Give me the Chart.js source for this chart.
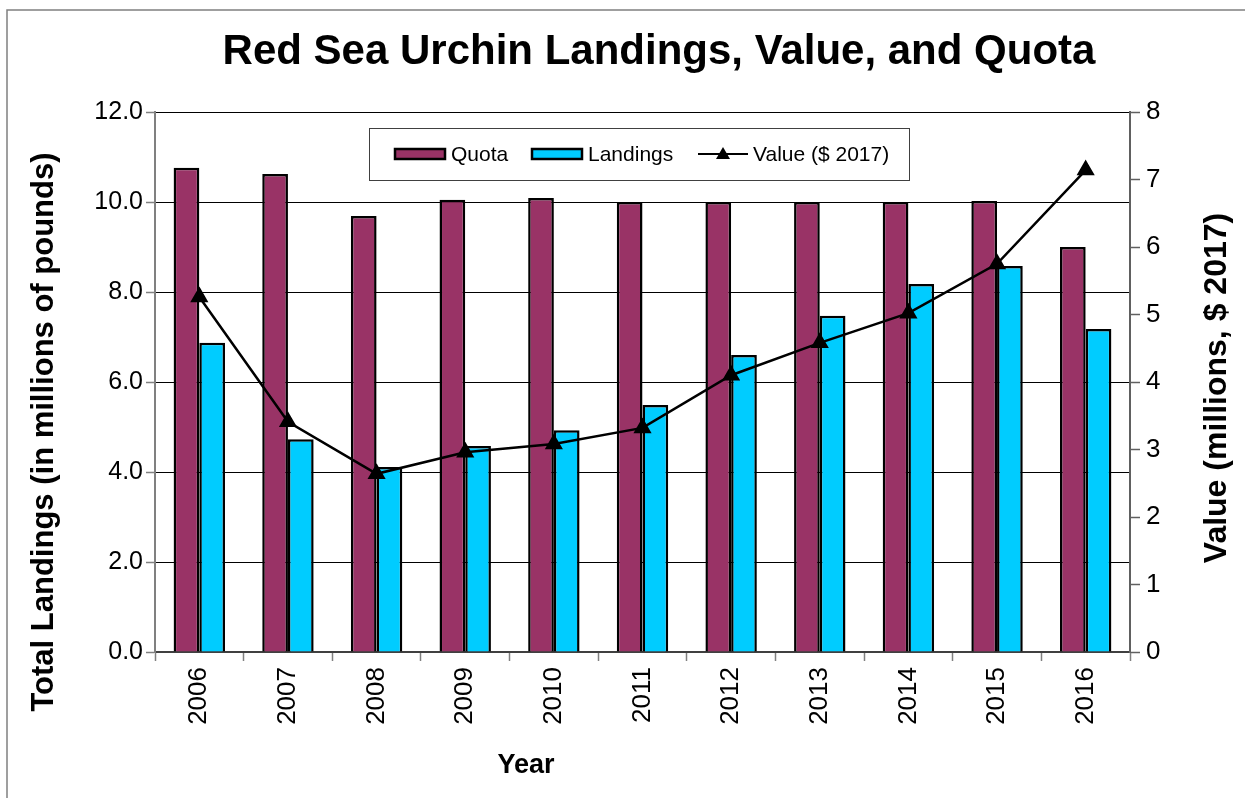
<!DOCTYPE html>
<html>
<head>
<meta charset="utf-8">
<script src="https://cdn.jsdelivr.net/npm/chart.js@4/dist/chart.umd.min.js"></script>
<style>
  html, body { margin: 0; padding: 0; background: #fff; }
  #wrap { width: 1245px; height: 798px; }
</style>
</head>
<body>
<div id="wrap"><canvas id="urchinChart" width="1245" height="798"></canvas></div>
<script>
// dados
const years = ['2006', '2007', '2008', '2009', '2010', '2011', '2012', '2013', '2014', '2015', '2016'];
const quota = [10.76, 10.62, 9.69, 10.05, 10.09, 10.0, 10.0, 10.0, 10.0, 10.02, 9.0];
const landings = [6.87, 4.73, 4.11, 4.58, 4.93, 5.49, 6.6, 7.47, 8.18, 8.58, 7.18];
const value2017 = [5.26, 3.41, 2.64, 2.96, 3.08, 3.32, 4.1, 4.58, 5.02, 5.75, 7.14];
const leftTicks = [0, 2, 4, 6, 8, 10, 12];
const rightTicks = [0, 1, 2, 3, 4, 5, 6, 7, 8];

const FONT = 'Arial, "Liberation Sans", Helvetica, sans-serif';

// títulos, legenda e moldura desenhados à mão
const decorPlugin = {
    id: 'decor',
    afterDraw(chart) {
        const ctx = chart.ctx;
        ctx.save();

        // moldura externa
        ctx.strokeStyle = '#808080';
        ctx.lineWidth = 1.5;
        ctx.beginPath();
        ctx.moveTo(7, 798);
        ctx.lineTo(7, 10);
        ctx.lineTo(1245, 10);
        ctx.stroke();

        ctx.fillStyle = '#000';
        ctx.textAlign = 'center';
        ctx.textBaseline = 'middle';

        ctx.font = 'bold 42px ' + FONT;
        ctx.fillText('Red Sea Urchin Landings, Value, and Quota', 659, 52);

        ctx.font = 'bold 27px ' + FONT;
        ctx.fillText('Year', 526, 766);

        ctx.font = 'bold 31px ' + FONT;
        ctx.save();
        ctx.translate(44, 432);
        ctx.rotate(-Math.PI / 2);
        ctx.fillText('Total Landings (in millions of pounds)', 0, 0);
        ctx.restore();

        ctx.font = 'bold 32px ' + FONT;
        ctx.save();
        ctx.translate(1217, 388);
        ctx.rotate(-Math.PI / 2);
        ctx.fillText('Value (millions, $ 2017)', 0, 0);
        ctx.restore();

        // legenda
        const lx = 369, ly = 128, lw = 540, lh = 52;
        ctx.fillStyle = '#fff';
        ctx.fillRect(lx, ly, lw, lh);
        ctx.strokeStyle = '#404040';
        ctx.lineWidth = 1;
        ctx.strokeRect(lx + 0.5, ly + 0.5, lw, lh);

        const ds = chart.data.datasets;
        const cy = ly + lh / 2;
        ctx.font = '21px ' + FONT;
        ctx.textAlign = 'left';

        // Quota
        ctx.fillStyle = ds[0].backgroundColor;
        ctx.fillRect(395, cy - 5, 50, 10);
        ctx.strokeStyle = '#000';
        ctx.lineWidth = 2.5;
        ctx.strokeRect(395, cy - 5, 50, 10);
        ctx.fillStyle = '#000';
        ctx.fillText('Quota', 451, cy + 1);

        // Landings
        ctx.fillStyle = ds[1].backgroundColor;
        ctx.fillRect(532, cy - 5, 50, 10);
        ctx.strokeRect(532, cy - 5, 50, 10);
        ctx.fillStyle = '#000';
        ctx.fillText('Landings', 588, cy + 1);

        // Value
        ctx.lineWidth = 2;
        ctx.beginPath();
        ctx.moveTo(698, cy);
        ctx.lineTo(748, cy);
        ctx.stroke();
        ctx.beginPath();
        ctx.moveTo(723, cy - 7);
        ctx.lineTo(730, cy + 5);
        ctx.lineTo(716, cy + 5);
        ctx.closePath();
        ctx.fill();
        ctx.fillText('Value ($ 2017)', 753, cy + 1);

        ctx.restore();
    }
};

const ctxUrchin = document.getElementById('urchinChart').getContext('2d');
new Chart(ctxUrchin, {
    type: 'bar',
    data: {
        labels: years,
        datasets: [
            {
                label: 'Quota',
                data: quota,
                backgroundColor: '#993366',
                borderColor: '#000',
                borderWidth: 2.5,
                yAxisID: 'y',
                order: 2,
                categoryPercentage: 0.58,
                barPercentage: 1.0
            },
            {
                label: 'Landings',
                data: landings,
                backgroundColor: '#00CCFF',
                borderColor: '#000',
                borderWidth: 2.5,
                yAxisID: 'y',
                order: 2,
                categoryPercentage: 0.58,
                barPercentage: 1.0
            },
            {
                type: 'line',
                label: 'Value ($ 2017)',
                data: value2017,
                borderColor: '#000',
                backgroundColor: '#000',
                borderWidth: 2.5,
                pointStyle: 'triangle',
                pointRadius: 8,
                pointBackgroundColor: '#000',
                pointBorderColor: '#000',
                tension: 0,
                yAxisID: 'y1',
                order: 1
            }
        ]
    },
    options: {
        responsive: false,
        animation: false,
        devicePixelRatio: 1,
        layout: { padding: { top: 112, left: 0, right: 0, bottom: 0 } },
        plugins: {
            legend: { display: false },
            title: { display: false },
            tooltip: { enabled: false }
        },
        scales: {
            x: {
                offset: true,
                grid: {
                    offset: true,
                    drawOnChartArea: false,
                    drawTicks: true,
                    tickLength: 9,
                    tickColor: '#808080',
                    tickWidth: 1.5
                },
                border: { color: '#404040', width: 2 },
                ticks: {
                    color: '#000',
                    font: { family: FONT, size: 26 },
                    minRotation: 90,
                    maxRotation: 90,
                    padding: 6
                },
                afterFit(scale) { scale.height = 146; }
            },
            y: {
                position: 'left',
                min: 0,
                max: 12,
                afterBuildTicks(scale) { scale.ticks = leftTicks.map(v => ({ value: v })); },
                grid: {
                    color: '#000',
                    lineWidth: 1,
                    tickLength: 9,
                    tickColor: '#808080',
                    tickWidth: 1.5
                },
                border: { color: '#808080', width: 2 },
                ticks: {
                    color: '#000',
                    font: { family: FONT, size: 25 },
                    padding: 3,
                    callback: v => v.toFixed(1)
                },
                afterFit(scale) { scale.width = 155; }
            },
            y1: {
                position: 'right',
                min: 0,
                max: 8,
                afterBuildTicks(scale) { scale.ticks = rightTicks.map(v => ({ value: v })); },
                grid: {
                    drawOnChartArea: false,
                    tickLength: 10,
                    tickColor: '#606060',
                    tickWidth: 1.5
                },
                border: { color: '#606060', width: 2 },
                ticks: {
                    color: '#000',
                    font: { family: FONT, size: 26 },
                    padding: 6
                },
                afterFit(scale) { scale.width = 115; }
            }
        }
    },
    plugins: [decorPlugin]
});
</script>
</body>
</html>
